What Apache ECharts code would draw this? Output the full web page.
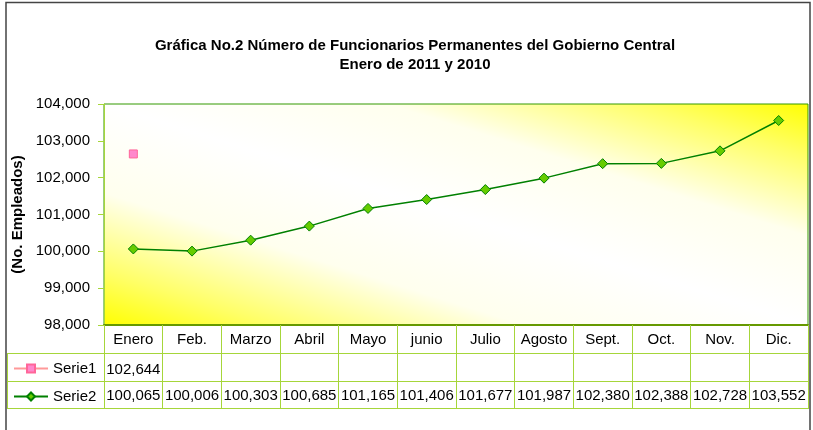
<!DOCTYPE html>
<html>
<head>
<meta charset="utf-8">
<script src="https://cdn.jsdelivr.net/npm/echarts@6/dist/echarts.min.js"></script>
<style>
  html, body { margin: 0; padding: 0; background: #fff; }
  #main { width: 813px; height: 430px; }
</style>
</head>
<body>
<div id="main"></div>
<script>
  // datos de la gráfica
  const meses = ['Enero', 'Feb.', 'Marzo', 'Abril', 'Mayo', 'junio', 'Julio', 'Agosto', 'Sept.', 'Oct.', 'Nov.', 'Dic.']
  const serie1 = [102644, null, null, null, null, null, null, null, null, null, null, null]
  const serie2 = [100065, 100006, 100303, 100685, 101165, 101406, 101677, 101987, 102380, 102388, 102728, 103552]
  const yMin = 98000
  const yMax = 104000
  const yPaso = 1000

  const fmt = v => (v === null || v === undefined) ? '' : v.toLocaleString('en-US')
  const fuente = 'Liberation Sans, Arial, sans-serif'
  const verdeClaro = '#a6d63a'

  // eje de la tabla de datos (una fila por eje)
  function filaTabla(etiquetas, offset, margen) {
    return {
      type: 'category',
      position: 'bottom',
      offset: offset,
      data: etiquetas,
      axisLine: {show: true, lineStyle: {color: verdeClaro, width: 1}},
      axisTick: {show: true, interval: 0, length: 28, lineStyle: {color: verdeClaro}},
      axisLabel: {show: true, interval: 0, margin: margen, color: '#000', fontSize: 15, fontFamily: fuente},
      splitLine: {show: false}
    }
  }

  const ejeMeses = filaTabla(meses, 0, 7)
  ejeMeses.axisLine.lineStyle = {color: '#669900', width: 2}
  const ejeCierre = filaTabla(meses, 83, 7)
  ejeCierre.axisTick.show = false
  ejeCierre.axisLabel.show = false

  const chart = echarts.init(document.getElementById('main'), null, {renderer: 'canvas'})
  chart.setOption({
    animation: false,
    backgroundColor: '#fff',
    title: {
      text: 'Gráfica No.2 Número de Funcionarios Permanentes del Gobierno Central\nEnero de 2011 y 2010',
      left: 410,
      top: 31,
      textAlign: 'center',
      textStyle: {fontSize: 15, fontWeight: 'bold', color: '#000', fontFamily: fuente, lineHeight: 19}
    },
    legend: {
      orient: 'vertical',
      left: 13,
      top: 361,
      padding: 0,
      itemWidth: 34,
      itemHeight: 10,
      itemGap: 13,
      data: ['Serie1', 'Serie2'],
      textStyle: {fontSize: 15, color: '#000', fontFamily: fuente, lineHeight: 15}
    },
    grid: {
      left: 104, right: 5, top: 104, bottom: 105,
      show: true,
      borderColor: '#339900',
      borderWidth: 1,
      backgroundColor: {
        type: 'linear', x: 0.41, y: 1.41, x2: 0.59, y2: -0.41,
        colorStops: [
          {offset: 0, color: '#ffff00'},
          {offset: 0.12, color: '#ffff66'},
          {offset: 0.3, color: '#ffffee'},
          {offset: 0.5, color: '#ffffff'},
          {offset: 0.7, color: '#ffffee'},
          {offset: 0.88, color: '#ffff66'},
          {offset: 1, color: '#ffff00'}
        ]
      }
    },
    xAxis: [
      ejeMeses,
      filaTabla(serie1.map(fmt), 28, 9),
      filaTabla(serie2.map(fmt), 56, 7),
      ejeCierre
    ],
    yAxis: {
      type: 'value',
      min: yMin,
      max: yMax,
      interval: yPaso,
      name: '(No. Empleados)',
      nameLocation: 'middle',
      nameGap: 75,
      nameTextStyle: {fontSize: 15, fontWeight: 'bold', color: '#000', fontFamily: fuente},
      axisLine: {show: true, lineStyle: {color: verdeClaro}},
      axisTick: {show: true, length: 6, lineStyle: {color: verdeClaro}},
      axisLabel: {margin: 14, color: '#000', fontSize: 15, fontFamily: fuente, formatter: fmt},
      splitLine: {show: false}
    },
    series: [
      {
        name: 'Serie1',
        type: 'line',
        data: serie1,
        symbol: 'rect',
        symbolSize: 8,
        showAllSymbol: true,
        lineStyle: {color: '#ff9999', width: 1.5},
        itemStyle: {color: '#ff88cc', borderColor: '#ff6699', borderWidth: 1}
      },
      {
        name: 'Serie2',
        type: 'line',
        data: serie2,
        symbol: 'diamond',
        symbolSize: 10,
        showAllSymbol: true,
        lineStyle: {color: '#008000', width: 1.5},
        itemStyle: {color: '#66cc00', borderColor: '#008000', borderWidth: 1}
      }
    ],
    graphic: [
      // marco exterior de la gráfica
      {type: 'rect', shape: {x: 6, y: 2.5, width: 804, height: 440}, style: {fill: 'none', stroke: '#444', lineWidth: 1.5}, silent: true},
      // columna de leyenda de la tabla
      {type: 'line', shape: {x1: 7, y1: 353.5, x2: 104, y2: 353.5}, style: {stroke: verdeClaro, lineWidth: 1}},
      {type: 'line', shape: {x1: 7, y1: 381.5, x2: 104, y2: 381.5}, style: {stroke: verdeClaro, lineWidth: 1}},
      {type: 'line', shape: {x1: 7, y1: 408.5, x2: 104, y2: 408.5}, style: {stroke: verdeClaro, lineWidth: 1}},
      {type: 'line', shape: {x1: 7.5, y1: 353, x2: 7.5, y2: 409}, style: {stroke: verdeClaro, lineWidth: 1}}
    ]
  })
</script>
</body>
</html>
